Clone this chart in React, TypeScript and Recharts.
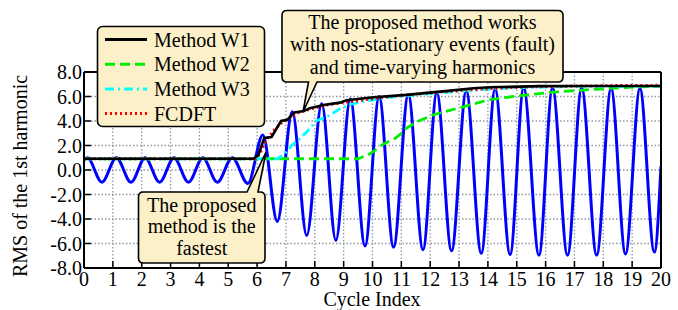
import { CartesianGrid, Line, LineChart, XAxis, YAxis } from "recharts";

const X_TICKS = [0, 1, 2, 3, 4, 5, 6, 7, 8, 9, 10, 11, 12, 13, 14, 15, 16, 17, 18, 19, 20];
const Y_TICKS = [-8, -6, -4, -2, 0, 2, 4, 6, 8];

// signal: peaks / troughs
const SIGNAL_X = [
  0, 0.12, 0.62, 1.12, 1.63, 2.12, 2.62, 3.12, 3.62, 4.12, 4.62, 5.14, 5.68, 6.2, 6.7, 7.22,
  7.72, 8.24, 8.73, 9.23, 9.74, 10.23, 10.73, 11.24, 11.75, 12.23, 12.74, 13.25, 13.77, 14.25,
  14.77, 15.24, 15.77, 16.24, 16.76, 17.25, 17.77, 18.27, 18.77, 19.27, 19.77, 20,
];
const SIGNAL_Y = [
  0.8, 1.0, -1.0, 1.0, -1.0, 1.0, -1.0, 1.0, -1.0, 1.0, -1.0, 1.0, -1.1, 2.85, -4.2, 4.75,
  -5.35, 5.4, -5.75, 5.8, -6.2, 6.0, -6.3, 6.15, -6.5, 6.3, -6.6, 6.45, -6.8, 6.6,
  -6.9, 6.7, -6.95, 6.7, -6.95, 6.7, -6.95, 6.65, -6.85, 6.65, -6.7, 0.3,
];

const W1_X = [0, 5.87, 6.04, 6.25, 6.5, 6.83, 7.05, 7.3, 7.62, 7.83, 8.3, 8.87, 9.1, 10.03, 11.18, 12.34, 13.5, 14.07, 15.8, 17, 20];
const W1_Y = [0.92, 0.92, 1.2, 2.62, 2.7, 4.0, 4.1, 4.7, 4.82, 5.05, 5.3, 5.5, 5.7, 5.94, 6.13, 6.4, 6.67, 6.75, 6.85, 6.86, 6.86];

const W2_X = [0, 9.5, 9.9, 10.4, 10.8, 11.0, 11.2, 11.6, 12.1, 12.9, 14.07, 15.23, 16.38, 17.54, 18.7, 20];
const W2_Y = [0.92, 0.92, 1.3, 2.15, 2.6, 3.0, 3.45, 4.0, 4.5, 5.0, 5.75, 6.1, 6.37, 6.56, 6.73, 6.85];

const W3_X = [0, 6.7, 6.95, 7.2, 7.45, 7.72, 8.05, 8.5, 8.87, 9.22, 9.8, 10.6, 11.76, 12.92, 14.07, 15.5, 17, 20];
const W3_Y = [0.92, 0.92, 1.3, 2.0, 2.5, 3.1, 4.0, 4.45, 5.0, 5.35, 5.64, 5.94, 6.18, 6.4, 6.61, 6.75, 6.82, 6.85];

const FCDFT_X = [0, 5.95, 6.1, 6.25, 6.4, 6.6, 6.9, 7.15, 7.45, 7.9, 8.4, 9.0, 9.5, 10.6, 11.8, 12.9, 14.1, 15.5, 17, 18.5, 20];
const FCDFT_Y = [0.92, 0.92, 1.35, 2.1, 2.7, 3.3, 3.95, 4.3, 4.7, 5.0, 5.3, 5.5, 5.65, 6.0, 6.27, 6.45, 6.65, 6.78, 6.85, 6.9, 6.92];

const toPoints = (xs: number[], ys: number[]) => xs.map((x, i) => ({ x, y: ys[i] }));

const SERIES = [
  { name: "Method W1", color: "#000000", dash: undefined, width: 2.6, xs: W1_X, ys: W1_Y },
  { name: "Method W2", color: "#00ee00", dash: "10 5", width: 2.8, xs: W2_X, ys: W2_Y },
  { name: "Method W3", color: "#00ffff", dash: "9 4 2 4", width: 2.8, xs: W3_X, ys: W3_Y },
  { name: "FCDFT", color: "#ff0000", dash: "2 3", width: 2.8, xs: FCDFT_X, ys: FCDFT_Y },
];

const FONT = "Liberation Serif, Times New Roman, serif";
const BOX_FILL = "#fcf0c8";
const tickStyle = { style: { fontFamily: FONT }, fontSize: 20, fill: "#000" };

export default function App() {
  // black drawn last so it sits over the others
  const drawOrder = [...SERIES.slice(1), SERIES[0]];

  return (
    <div style={{ position: "absolute", left: 0, top: 0, width: 678, height: 310, fontFamily: FONT }}>
      <LineChart width={678} height={310} margin={{ top: 62, right: 7, bottom: 0, left: 0 }}>
        <CartesianGrid
          stroke="#8e9aa5"
          strokeDasharray="1.5 2"
          strokeWidth={1.3}
          verticalValues={X_TICKS}
          horizontalValues={Y_TICKS}
        />
        <XAxis
          dataKey="x"
          type="number"
          domain={[0, 20]}
          ticks={X_TICKS}
          interval={0}
          allowDataOverflow
          height={42}
          tickSize={-7}
          tickMargin={11}
          tick={tickStyle}
          axisLine={{ stroke: "#000", strokeWidth: 2 }}
          tickLine={{ stroke: "#000", strokeWidth: 1.5 }}
        />
        <XAxis
          xAxisId="top"
          orientation="top"
          dataKey="x"
          type="number"
          domain={[0, 20]}
          ticks={X_TICKS}
          interval={0}
          height={10}
          tickSize={-7}
          tick={false}
          axisLine={{ stroke: "#000", strokeWidth: 2 }}
          tickLine={{ stroke: "#000", strokeWidth: 1.5 }}
        />
        <YAxis
          type="number"
          domain={[-8, 8]}
          ticks={Y_TICKS}
          interval={0}
          allowDataOverflow
          width={84}
          tickSize={-7}
          tickMargin={9}
          tick={tickStyle}
          tickFormatter={(v: number) => v.toFixed(1)}
          axisLine={{ stroke: "#000", strokeWidth: 2 }}
          tickLine={{ stroke: "#000", strokeWidth: 1.5 }}
        />
        <YAxis
          yAxisId="right"
          orientation="right"
          type="number"
          domain={[-8, 8]}
          ticks={Y_TICKS}
          interval={0}
          width={10}
          tickSize={-7}
          tick={false}
          axisLine={{ stroke: "#000", strokeWidth: 2 }}
          tickLine={{ stroke: "#000", strokeWidth: 1.5 }}
        />
        <Line
          data={toPoints(SIGNAL_X, SIGNAL_Y)}
          dataKey="y"
          type="monotone"
          stroke="#0000ff"
          strokeWidth={3}
          dot={false}
          isAnimationActive={false}
        />
        {drawOrder.map((s) => (
          <Line
            key={s.name}
            data={toPoints(s.xs, s.ys)}
            dataKey="y"
            type="linear"
            stroke={s.color}
            strokeWidth={s.width}
            strokeDasharray={s.dash}
            dot={false}
            isAnimationActive={false}
          />
        ))}
      </LineChart>

      <svg
        width={678}
        height={310}
        style={{ position: "absolute", left: 0, top: 0, pointerEvents: "none", fontFamily: FONT, fontSize: 20 }}
      >
        {/* legend */}
        <rect x={97.5} y={26.5} width={167} height={100} rx={5} fill={BOX_FILL} stroke="#000" strokeWidth={1.6} />
        {SERIES.map((s, i) => {
          const y = 39.5 + i * 24.7;
          return (
            <g key={s.name}>
              <line x1={105} x2={147} y1={y} y2={y} stroke={s.color} strokeWidth={3} strokeDasharray={s.dash} />
              <text x={154} y={y} dominantBaseline="central" fill="#000">
                {s.name}
              </text>
            </g>
          );
        })}

        {/* top callout */}
        <path
          d="M287,10.5 H558 Q563,10.5 563,15.5 V77 Q563,82 558,82 H317 L303,112 L308.5,82 H287 Q282,82 282,77 V15.5 Q282,10.5 287,10.5 Z"
          fill={BOX_FILL}
          stroke="#000"
          strokeWidth={1.6}
        />
        <text x={422.5} textAnchor="middle" fill="#000">
          <tspan x={422.5} y={28.5}>The proposed method works</tspan>
          <tspan x={422.5} y={51}>with nos-stationary events (fault)</tspan>
          <tspan x={422.5} y={73.5}>and time-varying harmonics</tspan>
        </text>

        {/* bottom callout */}
        <path
          d="M143.5,192 H247 L266,152 L258,192 H260 Q265,192 265,197 V258 Q265,263 260,263 H143.5 Q138.5,263 138.5,258 V197 Q138.5,192 143.5,192 Z"
          fill={BOX_FILL}
          stroke="#000"
          strokeWidth={1.6}
        />
        <text x={201.7} textAnchor="middle" fill="#000">
          <tspan x={201.7} y={211.5}>The proposed</tspan>
          <tspan x={201.7} y={233}>method is the</tspan>
          <tspan x={201.7} y={255}>fastest</tspan>
        </text>

        {/* axis titles */}
        <text x={372} y={306} textAnchor="middle" fill="#000">
          Cycle Index
        </text>
        <text x={27} y={176} textAnchor="middle" fill="#000" transform="rotate(-90 27 176)">
          RMS of the 1st harmonic
        </text>
      </svg>
    </div>
  );
}
